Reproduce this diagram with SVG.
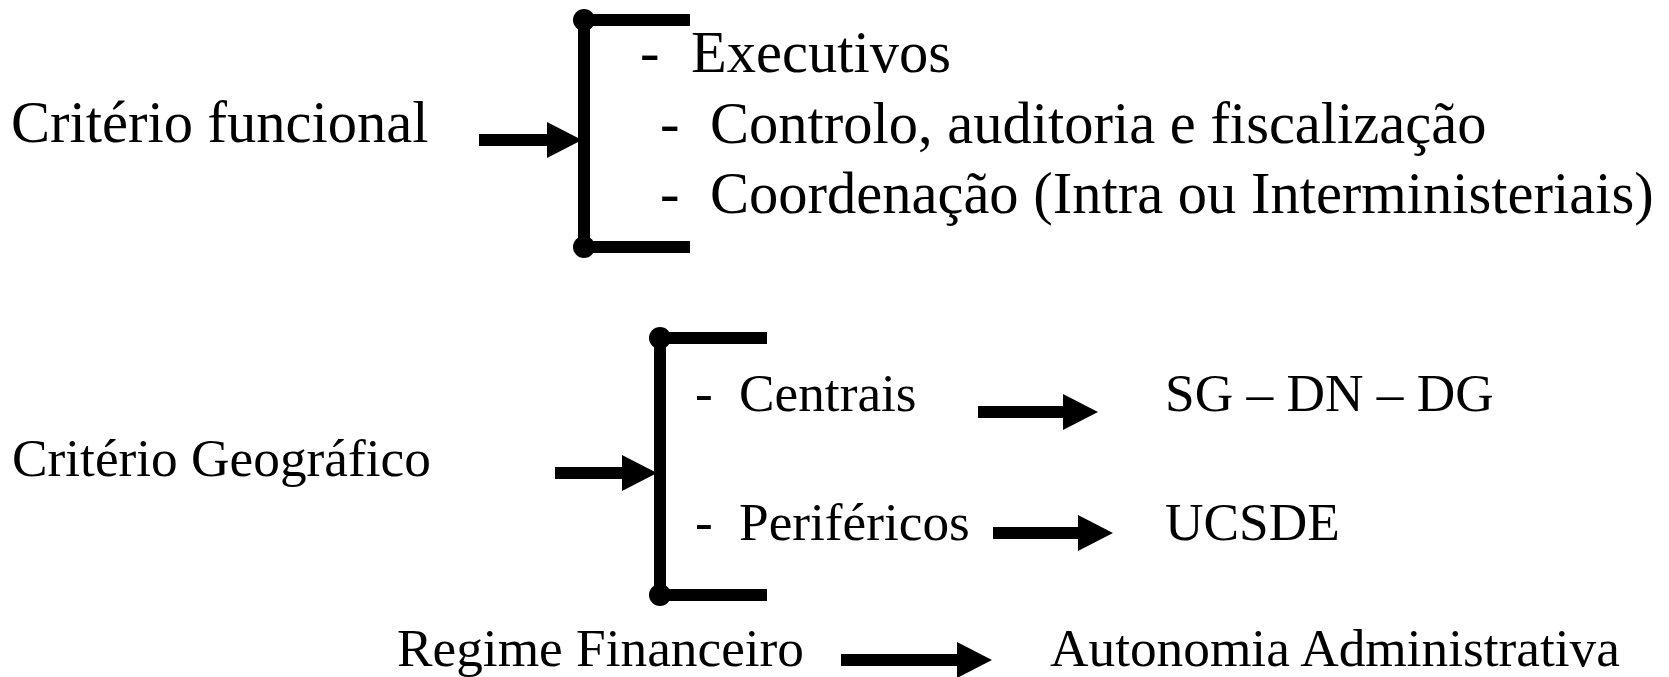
<svg xmlns="http://www.w3.org/2000/svg" width="1669" height="677" viewBox="0 0 1669 677">
<style>
  text { font-family: "Liberation Serif", "Times New Roman", serif; fill: #000; }
  .big { font-size: 58.5px; }
  .med { font-size: 53.3px; }
  .br { stroke: #000; stroke-width: 12; fill: none; }
  .sh { stroke: #000; stroke-width: 12; fill: none; }
  .dot { fill: #000; }
</style>
<defs>
  <marker id="ah" markerUnits="userSpaceOnUse" markerWidth="35" markerHeight="36" viewBox="0 0 35 36" refX="0" refY="18" orient="auto">
    <path d="M0,0 L35,18 L0,36 Z" fill="#000"/>
  </marker>
</defs>
<rect width="1669" height="677" fill="#fff"/>

<g id="criterio-funcional">
  <text class="big" x="11" y="142">Critério funcional</text>
</g>
<g id="bracket-funcional">
  <path class="br" d="M690,20 H584 V247 H690"/>
  <circle class="dot" cx="584" cy="20" r="11"/>
  <circle class="dot" cx="584" cy="247" r="11"/>
</g>
<g id="lista-funcional">
  <text class="big" y="72"><tspan x="640">-</tspan><tspan x="691">Executivos</tspan></text>
  <text class="big" y="143"><tspan x="660">-</tspan><tspan x="710">Controlo, auditoria e fiscalização</tspan></text>
  <text class="big" y="213"><tspan x="660">-</tspan><tspan x="710">Coordenação (Intra ou Interministeriais)</tspan></text>
</g>

<g id="criterio-geografico">
  <text class="med" x="12" y="476">Critério Geográfico</text>
</g>
<g id="bracket-geografico">
  <path class="br" d="M767,338 H660 V595 H767"/>
  <circle class="dot" cx="660" cy="338" r="11"/>
  <circle class="dot" cx="660" cy="595" r="11"/>
</g>
<g id="centrais">
  <text class="med" y="411"><tspan x="695">-</tspan><tspan x="739">Centrais</tspan></text>
</g>
<g id="perifericos">
  <text class="med" y="540"><tspan x="695">-</tspan><tspan x="739">Periféricos</tspan></text>
</g>
<g id="sg-dn-dg">
  <text class="med" x="1165" y="411">SG – DN – DG</text>
</g>
<g id="ucsde">
  <text class="med" x="1165" y="540">UCSDE</text>
</g>
<g id="regime-financeiro">
  <text class="med" x="397" y="666">Regime Financeiro</text>
</g>
<g id="autonomia-administrativa">
  <text class="med" x="1050" y="666">Autonomia Administrativa</text>
</g>

<g id="connectors">
  <line class="sh" x1="479" y1="140" x2="547" y2="140" marker-end="url(#ah)"/>
  <line class="sh" x1="555" y1="473" x2="622" y2="473" marker-end="url(#ah)"/>
  <line class="sh" x1="978" y1="412" x2="1063" y2="412" marker-end="url(#ah)"/>
  <line class="sh" x1="993" y1="533" x2="1078" y2="533" marker-end="url(#ah)"/>
  <line class="sh" x1="841" y1="660" x2="957" y2="660" marker-end="url(#ah)"/>
</g>
</svg>
